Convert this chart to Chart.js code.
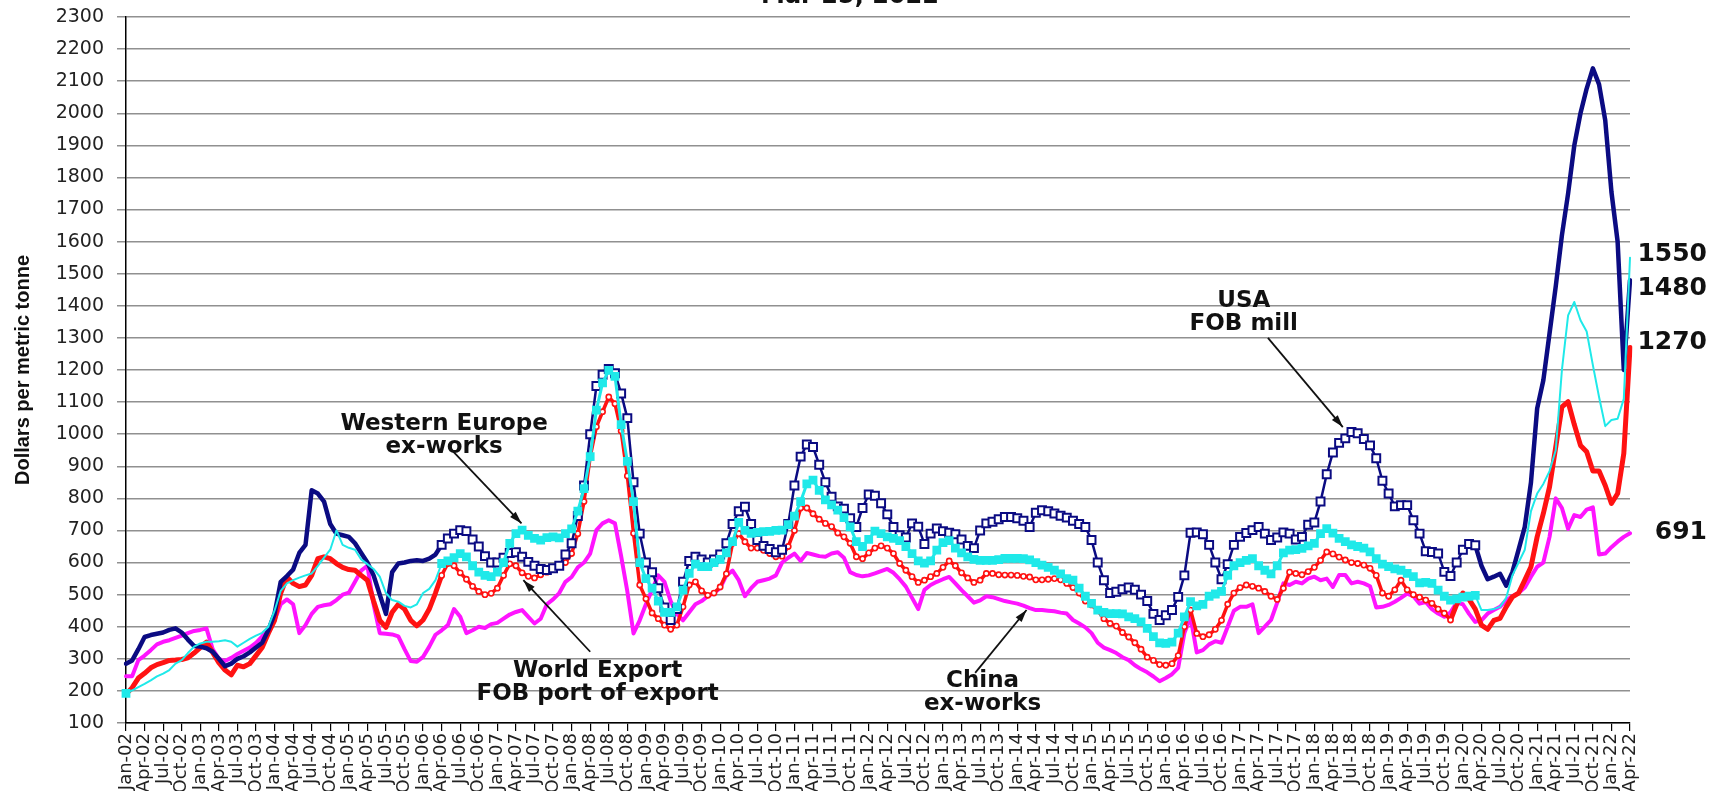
<!DOCTYPE html>
<html>
<head>
<meta charset="utf-8">
<script src="https://cdn.jsdelivr.net/npm/chart.js@4.4.1/dist/chart.umd.min.js"></script>
<style>
  html, body { margin: 0; padding: 0; background: #fff; }
  canvas { display: block; }
</style>
</head>
<body>
<canvas id="steelChart" width="1721" height="791"></canvas>
<script>
// monthly steel prices, dollars per metric tonne, Jan-02 .. Apr-22
const monthNames = ['Jan', 'Feb', 'Mar', 'Apr', 'May', 'Jun', 'Jul', 'Aug', 'Sep', 'Oct', 'Nov', 'Dec'];
const months = [];
for (let yr = 2002; yr <= 2022; yr++) {
    for (let mo = 0; mo < 12; mo++) {
        if (yr === 2022 && mo > 3) break;
        months.push(monthNames[mo] + '-' + String(yr).slice(2));
    }
}

const usa = [
    285, 295, 330, 368, 374, 378, 382, 390, 395, 382, 360, 340,
    338, 333, 322, 300, 277, 285, 300, 308, 320, 335, 350, 390,
    440, 540, 558, 578, 630, 655, 825, 815, 790, 720, 690, 685,
    680, 660, 630, 600, 560, 500, 440, 570, 597, 600, 605, 607,
    605, 612, 625, 655, 675, 690, 701, 698, 672, 650, 620, 600,
    600, 615, 630, 632, 618, 602, 590, 580, 577, 582, 590, 625,
    660, 745, 840, 1000, 1150, 1185, 1203, 1190, 1127, 1050, 850, 690,
    600, 570, 520, 460, 421, 455, 540, 605, 618, 610, 600, 610,
    625, 660, 720, 760, 774, 720, 670, 652, 642, 632, 640, 720,
    840, 930, 968, 960, 905, 850, 805, 775, 768, 738, 711, 770,
    812, 808, 785, 750, 711, 685, 678, 722, 712, 658, 690, 706,
    698, 693, 688, 672, 652, 645, 700, 722, 727, 735, 742, 742,
    738, 730, 711, 755, 763, 760, 753, 746, 740, 730, 720, 711,
    670, 600, 545, 505, 509, 517, 522, 515, 500, 480, 440, 421,
    436, 452, 493, 560, 693, 694, 688, 655, 600, 548, 595, 655,
    680, 692, 701, 711, 690, 670, 678, 694, 690, 672, 680, 718,
    725, 790, 875, 943, 973, 987, 1007, 1003, 985, 965, 925, 855,
    815, 775, 779, 779, 732, 690, 635, 633, 628, 571, 558, 600,
    640, 658, 654, 590, 548, 556, 565, 528, 570, 640, 711, 850,
    1080, 1168, 1314, 1460, 1620, 1750, 1900, 2000, 2077, 2140, 2090, 1978,
    1755, 1600, 1200, 1480
];

const westernEurope = [
    192, 202, 212, 222, 233, 245, 254, 265, 285, 296, 318, 338,
    348, 353, 353, 355, 358, 353, 338, 350, 362, 372, 381, 400,
    450, 512, 535, 545, 553, 560, 566, 590, 615, 640, 700, 655,
    646, 640, 610, 595, 580, 556, 505, 483, 478, 465, 460, 470,
    505, 518, 545, 597, 605, 615, 628, 618, 590, 570, 560, 556,
    570, 600, 660, 690, 701, 685, 675, 670, 678, 680, 677, 690,
    705, 760, 830, 930, 1075, 1160, 1199, 1180, 1030, 915, 790, 600,
    550, 520, 480, 445, 445, 462, 514, 566, 595, 587, 587, 600,
    610, 630, 665, 725, 700, 691, 694, 696, 697, 700, 701, 718,
    745, 790, 845, 857, 825, 795, 780, 763, 740, 711, 665, 650,
    672, 698, 690, 680, 675, 668, 650, 628, 605, 598, 605, 639,
    662, 668, 645, 630, 618, 610, 607, 607, 607, 609, 613, 613,
    613, 612, 608, 600, 592, 585, 576, 565, 550, 545, 520, 495,
    473, 452, 445, 441, 441, 440, 431, 425, 415, 395, 369, 350,
    348, 352, 380, 431, 478, 465, 470, 495, 502, 510, 560, 590,
    600, 607, 612, 590, 576, 565, 590, 630, 639, 640, 644, 652,
    660, 690, 706, 692, 675, 665, 655, 650, 645, 633, 612, 595,
    587, 580, 576, 566, 556, 537, 538, 535, 514, 495, 483, 487,
    492, 495, 498, 452, 452, 455, 462, 490, 560, 600, 640, 760,
    815, 845, 885, 950, 1200, 1370, 1412, 1355, 1320, 1215, 1116, 1025,
    1044, 1048, 1110, 1550
];

const worldExport = [
    190, 210, 240, 255, 272, 282, 288, 295, 296, 298, 303, 318,
    335, 352, 320, 288, 265, 250, 280, 275, 285, 310, 335, 380,
    420, 505, 555, 535, 525, 530, 560, 612, 618, 612, 597, 585,
    578, 576, 560, 545, 480, 420, 398, 445, 470, 455, 420, 403,
    421, 455, 505, 560, 597, 590, 568, 548, 526, 510, 500, 504,
    520, 560, 596, 590, 568, 557, 552, 562, 570, 578, 588, 600,
    628, 690, 790, 930, 1023, 1070, 1116, 1095, 1010, 870, 691, 530,
    487, 443, 425, 405, 392, 405, 462, 530, 540, 512, 498, 505,
    524, 565, 660, 690, 665, 645, 645, 638, 628, 618, 620, 650,
    700, 770, 770, 752, 735, 722, 712, 692, 680, 660, 618, 612,
    630, 645, 652, 645, 628, 597, 576, 556, 538, 545, 556, 566,
    585, 605, 590, 568, 552, 538, 545, 566, 566, 562, 561, 561,
    560, 557, 555, 546, 546, 548, 550, 546, 535, 522, 505, 480,
    468, 450, 425, 410, 402, 382, 368, 350, 330, 305, 295, 282,
    280, 285, 310, 400, 452, 379, 369, 375, 392, 420, 470, 505,
    522, 530, 526, 520, 510, 495, 485, 520, 570, 566, 562, 572,
    585, 607, 633, 627, 617, 608, 600, 597, 592, 582, 560, 505,
    495, 515, 545, 515, 500, 492, 483, 473, 455, 442, 421, 470,
    505, 485, 455, 405, 392, 420, 426, 462, 493, 505, 545, 587,
    680, 753, 836, 960, 1085, 1101, 1030, 965, 945, 885, 885, 840,
    784, 815, 940, 1270
];

const china = [
    246, 246, 296, 310, 327, 345, 353, 358, 365, 372, 380, 387,
    390, 395, 330, 300, 293, 303, 315, 325, 335, 350, 370, 392,
    420, 470, 485, 470, 380, 405, 440, 462, 467, 470, 483, 500,
    506, 540, 575, 590, 470, 380, 378, 376, 370, 330, 293, 291,
    306, 338, 375, 389, 405, 455, 431, 380, 389, 400, 396, 408,
    412, 425, 438, 446, 452, 431, 410, 425, 470, 485, 505, 540,
    555, 585, 600, 628, 701, 722, 732, 722, 620, 510, 379, 420,
    470, 515, 560, 540, 480, 440, 420, 445, 470, 480, 495, 505,
    520, 560, 575, 545, 495, 520, 540, 545, 550, 560, 600, 615,
    628, 605, 630, 625, 620, 618, 628, 632, 615, 570, 561, 557,
    560, 566, 573, 580, 568, 548, 525, 490, 455, 515, 530, 540,
    548, 555, 535, 514, 495, 475, 482, 495, 492, 486, 480, 476,
    472, 466, 458, 452, 452, 450, 448, 444, 441, 421, 410, 398,
    380, 350, 335, 327, 318, 305, 296, 280, 268, 258, 245, 230,
    240, 252, 272, 380, 430, 320, 327, 345, 355, 350, 400, 450,
    462, 462, 470, 380, 400, 421, 475, 535, 530, 540, 535, 550,
    556, 545, 550, 524, 561, 561, 535, 540, 535, 526, 460, 462,
    468, 478, 490, 503, 495, 472, 477, 455, 441, 431, 445, 475,
    470, 440, 415, 420, 441, 452, 462, 483, 495, 505, 522, 556,
    587, 600, 680, 800, 770, 705, 748, 742, 765, 772, 625, 628,
    648, 665, 680, 691
];

const lastValues = ['1550', '1480', '1270', '691'];

// stretches of each series drawn with markers (month indexes)
const usaMarked = [51, 218];
const weMarked = [51, 218];
const wxMarked = [51, 214];
const inRange = (r, i) => i >= r[0] && i <= r[1];
const segIn = (r) => (s) => inRange(r, s.p0DataIndex) && inRange(r, s.p1DataIndex);

const NAVY = '#0b0b82', CYAN = '#1fe9e9', RED = '#ff1212', MAGENTA = '#ff14ff';

// callouts: first-line anchor and arrow, in (month index, $/t)
const callouts = [
    { lines: ['Western Europe', 'ex-works'], at: [51.4, 1012], from: [52.3, 957], to: [63.9, 722] },
    { lines: ['World Export', 'FOB port of export'], at: [76.2, 243], from: [75.0, 322], to: [64.2, 545] },
    { lines: ['China', 'ex-works'], at: [138.4, 212], from: [137.2, 256], to: [145.5, 452] },
    { lines: ['USA', 'FOB mill'], at: [180.6, 1396], from: [184.5, 1300], to: [196.6, 1022] }
];

const annotate = {
    id: 'annotate',
    afterDraw(chart) {
        const { ctx, scales: { x, y } } = chart;
        ctx.save();
        ctx.fillStyle = '#111';
        ctx.strokeStyle = '#111';

        // date heading, cut off by the top edge
        ctx.font = 'bold 24px "DejaVu Sans"';
        ctx.textAlign = 'center';
        ctx.textBaseline = 'alphabetic';
        ctx.fillText('Mar 25, 2022', 850, 3);

        ctx.font = 'bold 23px "DejaVu Sans"';
        callouts.forEach(c => {
            const tx = x.getPixelForValue(c.at[0]);
            const ty = y.getPixelForValue(c.at[1]);
            c.lines.forEach((t, k) => ctx.fillText(t, tx, ty + k * 23));

            const x1 = x.getPixelForValue(c.from[0]), y1 = y.getPixelForValue(c.from[1]);
            const x2 = x.getPixelForValue(c.to[0]), y2 = y.getPixelForValue(c.to[1]);
            ctx.lineWidth = 1.8;
            ctx.beginPath();
            ctx.moveTo(x1, y1);
            ctx.lineTo(x2, y2);
            ctx.stroke();
            const a = Math.atan2(y2 - y1, x2 - x1);
            ctx.beginPath();
            ctx.moveTo(x2, y2);
            ctx.lineTo(x2 - 13 * Math.cos(a - 0.3), y2 - 13 * Math.sin(a - 0.3));
            ctx.lineTo(x2 - 13 * Math.cos(a + 0.3), y2 - 13 * Math.sin(a + 0.3));
            ctx.closePath();
            ctx.fill();
        });

        // latest prices at the right end
        const last = months.length - 1;
        const xr = x.getPixelForValue(last) + 77;
        const nudge = [-3, 8, -5, -1];
        ctx.font = 'bold 25px "DejaVu Sans"';
        ctx.textAlign = 'right';
        ctx.textBaseline = 'middle';
        lastValues.forEach((t, k) => ctx.fillText(t, xr, y.getPixelForValue(Number(t)) + nudge[k]));
        ctx.restore();
    }
};

const ctx = document.getElementById('steelChart').getContext('2d');
new Chart(ctx, {
    type: 'line',
    data: {
        labels: months,
        datasets: [
            {
                label: 'Western Europe ex-works',
                data: westernEurope,
                borderColor: CYAN,
                backgroundColor: CYAN,
                borderWidth: 2,
                segment: { borderWidth: s => segIn(weMarked)(s) ? 3 : 2 },
                pointStyle: 'rect',
                pointRadius: c => (inRange(weMarked, c.dataIndex) || c.dataIndex === 0) ? 6.2 : 0,
                pointBorderWidth: 0,
                pointBackgroundColor: CYAN
            },
            {
                label: 'USA FOB mill',
                data: usa,
                borderColor: NAVY,
                backgroundColor: NAVY,
                borderWidth: 4.5,
                segment: { borderWidth: s => segIn(usaMarked)(s) ? 2.5 : 4.5 },
                pointStyle: 'rect',
                pointRadius: c => inRange(usaMarked, c.dataIndex) ? 5.6 : 0,
                pointBorderWidth: 2,
                pointBorderColor: NAVY,
                pointBackgroundColor: '#fff'
            },
            {
                label: 'World Export FOB port of export',
                data: worldExport,
                borderColor: RED,
                backgroundColor: RED,
                borderWidth: 5,
                segment: { borderWidth: s => segIn(wxMarked)(s) ? 3.5 : 5 },
                pointStyle: 'circle',
                pointRadius: c => inRange(wxMarked, c.dataIndex) ? 2.6 : 0,
                pointBorderWidth: 1.6,
                pointBorderColor: RED,
                pointBackgroundColor: '#fff'
            },
            {
                label: 'China ex-works',
                data: china,
                borderColor: MAGENTA,
                backgroundColor: MAGENTA,
                borderWidth: 4,
                pointRadius: 0
            }
        ]
    },
    options: {
        responsive: false,
        animation: false,
        devicePixelRatio: 1,
        events: [],
        layout: { padding: { top: 17, right: 91, bottom: 0, left: 0 } },
        elements: {
            line: { tension: 0, borderJoinStyle: 'round', borderCapStyle: 'round' }
        },
        plugins: {
            legend: { display: false },
            tooltip: { enabled: false }
        },
        scales: {
            x: {
                offset: false,
                afterFit(scale) {
                    scale.height = 68;
                    scale.paddingLeft = 0;
                    scale.paddingRight = 0;
                },
                grid: { drawOnChartArea: false, drawTicks: true, tickLength: 8, color: '#000', lineWidth: 1.2 },
                border: { color: '#000', width: 1.5 },
                ticks: {
                    autoSkip: false,
                    maxRotation: 90,
                    minRotation: 90,
                    padding: 2,
                    color: '#222',
                    font: { family: 'DejaVu Sans', size: 18 },
                    callback(v, i) { return i % 3 === 0 ? this.getLabelForValue(v) : null; }
                }
            },
            y: {
                min: 100,
                max: 2300,
                afterFit(scale) {
                    scale.width = 126;
                    scale.paddingTop = 0;
                    scale.paddingBottom = 0;
                },
                grid: { color: '#909090', lineWidth: 1.5, tickLength: 9 },
                border: { color: '#000', width: 1.5 },
                ticks: {
                    stepSize: 100,
                    padding: 13,
                    color: '#222',
                    font: { family: 'DejaVu Sans', size: 19 },
                    callback: v => String(v)
                },
                title: {
                    display: true,
                    text: 'Dollars per metric tonne',
                    color: '#111',
                    font: { family: 'Liberation Sans', weight: 'bold', size: 20 },
                    padding: { top: 11, bottom: 0 }
                }
            }
        }
    },
    plugins: [annotate]
});
</script>
</body>
</html>
